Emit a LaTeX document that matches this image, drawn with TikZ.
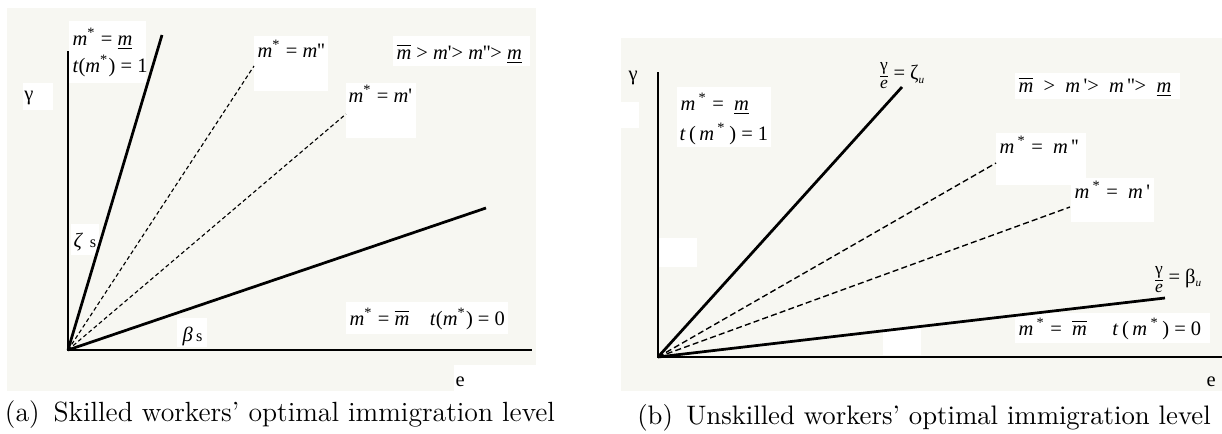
\documentclass[tikz,border=0pt]{standalone}
\usepackage{fontspec}
\newfontfamily\tnr{Liberation Serif}
\definecolor{bgc}{RGB}{247,247,242}
\newcommand\mi{\textit{m}}
\newcommand\st{\textsuperscript{*}}
\newcommand\pr{\textquotesingle}
\newcommand\mund{\underline{\textit{m}}}
\newcommand\mover{$\overline{\hbox{\itshape m}}$}
\newcommand\gfrac{$\frac{\hbox{\fontsize{7}{8}\selectfont γ}}{\hbox{\fontsize{7}{8}\selectfont\itshape e}}$}
\tikzset{
  lab/.style={font=\tnr\fontsize{8.2}{10}\selectfont, inner sep=0pt, anchor=base west},
  fracnode/.style={font=\tnr\fontsize{8}{10}\selectfont, inner sep=0pt, anchor=center},
  axisline/.style={line width=1.1pt},
  solidline/.style={line width=1.1pt},
  dashL/.style={line width=0.45pt, dash pattern=on 1.6pt off 1.1pt},
  dashR/.style={line width=0.55pt, dash pattern=on 2.4pt off 1.3pt},
  captext/.style={inner sep=0pt, anchor=base},
  wbox/.style={fill=white}
}
\begin{document}
\begin{tikzpicture}[x=0.4pt,y=-0.4pt]
\useasboundingbox (0,0) rectangle (1222,434);
% ---------------- left panel ----------------
\fill[bgc] (7,8) rectangle (536,391);
\fill[wbox] (69,21) rectangle (146,83);
\fill[wbox] (254,36) rectangle (328,91);
\fill[wbox] (346,83) rectangle (416,138);
\fill[wbox] (393,36) rectangle (530,66);
\fill[wbox] (23,83) rectangle (53,110);
\fill[wbox] (71,224) rectangle (99,255);
\fill[wbox] (177,318) rectangle (207,347);
\fill[wbox] (346,302) rectangle (508,334);
\fill[wbox] (454,365) rectangle (536,391);
\coordinate (O1) at (68,350);
\coordinate (Y1) at (68,51);
\coordinate (X1) at (532,350);
\coordinate (A1) at (162,35);
\coordinate (A2) at (254,66);
\coordinate (A3) at (346,114);
\coordinate (A4) at (486,208);
\draw[axisline] (Y1) -- (O1) -- (X1);
\draw[solidline] (O1) -- (A1);
\draw[dashL] (O1) -- (A2);
\draw[dashL] (O1) -- (A3);
\draw[solidline] (O1) -- (A4);
\node[lab] (l1a) at (72,45) {\mi\st{} = \mund};
\node[lab] (l1b) at (72,72) {\textit{t}(\mi\st) = 1};
\node[lab] (l2) at (257,57) {\mi\st{} = \mi\pr\pr};
\node[lab] (l3) at (348,102) {\mi\st{} = \mi\pr};
\node[lab] (l4) at (396,59) {\mover{} > \mi\pr> \mi\pr\pr> \mund};
\node[lab] (lg) at (24,100) {γ};
\node[lab] (lz) at (73,247) {\textit{ζ}\,\,{\fontsize{6.5}{7}\selectfont s}};
\node[lab] (lb) at (182,341) {\textit{β}\,{\fontsize{6.5}{7}\selectfont s}};
\node[lab] (l5) at (349,325) {\mi\st{} = \mover\quad\textit{t}(\mi\st) = 0};
\node[lab] (le) at (455,386) {e};
\node[captext, font=\fontsize{11.1}{12}\selectfont] (capa) at (280,421) {(a)\enspace Skilled workers' optimal immigration level};
% ---------------- right panel ----------------
\fill[bgc] (621,38) rectangle (1222,391);
\fill[wbox] (621,102) rectangle (639,128);
\fill[wbox] (659,238) rectangle (697,267);
\fill[wbox] (883,328) rectangle (921,355);
\fill[wbox] (677,87) rectangle (771,147);
\fill[wbox] (1015,73) rectangle (1180,99);
\fill[wbox] (996,133) rectangle (1086,185);
\fill[wbox] (1071,178) rectangle (1154,222);
\fill[wbox] (1015,313) rectangle (1210,343);
\coordinate (O2) at (658,357);
\coordinate (Y2) at (658,72);
\coordinate (X2) at (1222,357);
\coordinate (B1) at (902,87);
\coordinate (B2) at (996,163);
\coordinate (B3) at (1070,207);
\coordinate (B4) at (1165,298);
\draw[axisline] (Y2) -- (O2) -- (X2);
\draw[solidline] (O2) -- (B1);
\draw[dashR] (O2) -- (B2);
\draw[dashR] (O2) -- (B3);
\draw[solidline] (O2) -- (B4);
\node[lab] (rg) at (628,80) {γ};
\node[lab] (r1a) at (680,110) {\mi\,\st\ = \ \mund};
\node[lab] (r1b) at (679,140) {\textit{t}\,(\,\mi\,\st\,) = 1};
\node[fracnode] (rf1) at (884,76) {\gfrac};
\node[lab, anchor=west] (rz) at (893,74) {= ζ{\fontsize{4.5}{5}\selectfont\raisebox{-1.5pt}{\textit{u}}}};
\node[lab] (r2) at (1018,92) {\mover\ \ > \ \mi\,\pr> \ \mi\,\pr\pr> \ \mund};
\node[lab] (r3) at (999,153) {\mi\,\st\ = \ \mi\,\pr\pr};
\node[lab] (r4) at (1074,198) {\mi\,\st\ = \ \mi\,\pr};
\node[fracnode] (rf2) at (1159,280) {\gfrac};
\node[lab, anchor=west] (rb) at (1168,278) {= β{\fontsize{4.5}{5}\selectfont\raisebox{-1.5pt}{\textit{u}}}};
\node[lab] (r5) at (1018,335) {\mi\,\st\ = \ \mover\quad\ \textit{t}\,(\,\mi\,\st\,) = 0};
\node[lab] (re) at (1206,386) {e};
\node[captext, font=\fontsize{10.7}{12}\selectfont] (capb) at (924,424) {(b)\enspace Unskilled workers' optimal immigration level};
\end{tikzpicture}
\end{document}
